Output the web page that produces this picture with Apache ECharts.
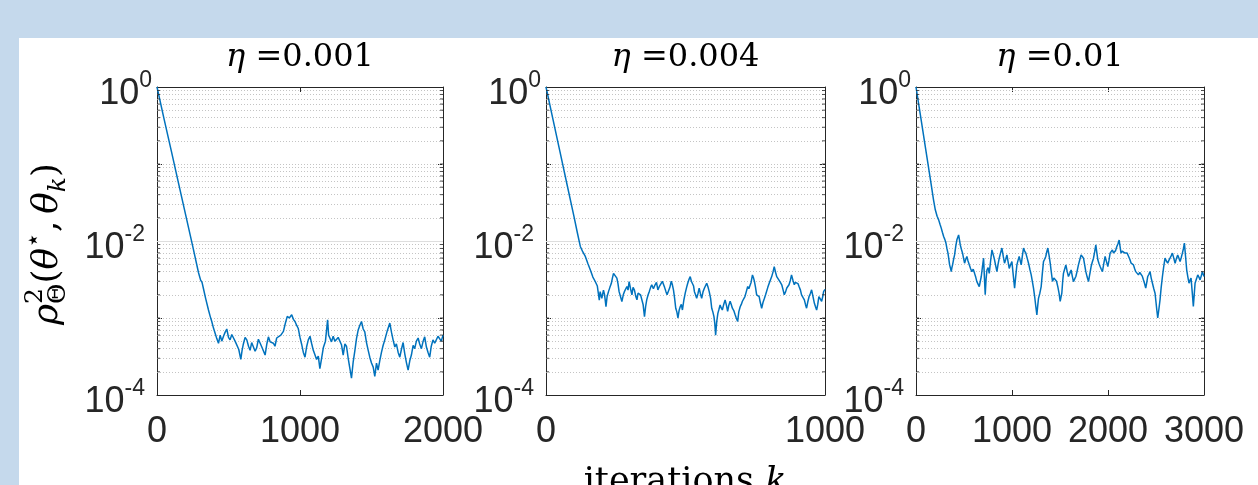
<!DOCTYPE html>
<html lang="en">
<head>
<meta charset="UTF-8">
<title>rho vs iterations</title>
<script src="https://cdn.jsdelivr.net/npm/echarts@6/dist/echarts.min.js"></script>
<style>
  html, body { margin: 0; padding: 0; background: #c5d9ec; }
  #main { width: 1258px; height: 485px; }
</style>
</head>
<body>
<div id="main"></div>
<script>
// step sizes shown in the panel titles
var etaLabels = ['0.001', '0.004', '0.01'];
// right end of each x axis (iterations)
var xMaxes = [2000, 1000, 3000];
var xTickStep = 1000;

// [iteration k, rho^2], eta = 0.001
var curve1 = [[0,1.0],[50,0.38],[100,0.148],[150,0.057],[200,0.022],[250,8.5e-3],[290,3.9e-3],[305,3.1e-3],[315,2.9e-3],[325,2.4e-3],[340,1.8e-3],[360,1.27e-3],[372,1.05e-3],[383,9.0e-4],[395,7.4e-4],[407,6.3e-4],[418,5.4e-4],[430,4.7e-4],[442,6.0e-4],[453,5.0e-4],[465,5.8e-4],[476,6.5e-4],[488,7.2e-4],[500,5.6e-4],[511,5.2e-4],[523,6.1e-4],[535,5.5e-4],[546,5.0e-4],[558,4.8e-4],[572,3.9e-4],[586,2.9e-4],[595,3.8e-4],[604,4.6e-4],[616,5.6e-4],[628,5.2e-4],[640,4.3e-4],[651,3.8e-4],[662,4.8e-4],[674,5.0e-4],[686,3.7e-4],[697,4.1e-4],[709,5.3e-4],[721,5.2e-4],[733,4.2e-4],[744,4.0e-4],[756,3.3e-4],[768,4.6e-4],[779,5.7e-4],[791,4.9e-4],[802,5.2e-4],[814,4.7e-4],[825,4.3e-4],[837,5.5e-4],[849,5.2e-4],[866,6.0e-4],[884,6.7e-4],[898,8.6e-4],[911,1.05e-3],[925,1.0e-3],[942,1.1e-3],[954,9.6e-4],[965,9.0e-4],[977,8.0e-4],[988,7.3e-4],[1000,5.6e-4],[1011,4.6e-4],[1023,3.6e-4],[1035,3.1e-4],[1046,4.2e-4],[1058,5.2e-4],[1070,5.8e-4],[1081,4.7e-4],[1093,3.8e-4],[1105,3.3e-4],[1116,2.9e-4],[1128,3.2e-4],[1139,2.2e-4],[1151,3.0e-4],[1163,4.1e-4],[1178,5.0e-4],[1193,9.5e-4],[1200,6.0e-4],[1209,5.5e-4],[1220,4.9e-4],[1232,5.8e-4],[1244,5.0e-4],[1256,4.8e-4],[1267,5.6e-4],[1279,5.8e-4],[1290,4.5e-4],[1302,3.3e-4],[1314,4.6e-4],[1325,4.3e-4],[1337,3.0e-4],[1349,2.2e-4],[1360,1.65e-4],[1372,2.7e-4],[1384,3.8e-4],[1395,5.4e-4],[1407,7.0e-4],[1418,8.0e-4],[1430,9.0e-4],[1442,7.2e-4],[1453,6.6e-4],[1465,4.8e-4],[1477,3.8e-4],[1488,3.1e-4],[1500,2.6e-4],[1512,2.3e-4],[1523,1.75e-4],[1535,2.6e-4],[1546,2.1e-4],[1558,2.8e-4],[1570,3.6e-4],[1581,4.4e-4],[1593,5.2e-4],[1610,6.8e-4],[1628,8.6e-4],[1640,6.5e-4],[1651,5.2e-4],[1663,4.2e-4],[1674,4.6e-4],[1686,3.6e-4],[1698,3.1e-4],[1709,3.9e-4],[1721,4.8e-4],[1733,3.4e-4],[1745,2.6e-4],[1756,2.1e-4],[1768,2.8e-4],[1779,3.3e-4],[1791,4.4e-4],[1802,4.0e-4],[1814,5.0e-4],[1826,5.5e-4],[1837,4.6e-4],[1849,4.0e-4],[1860,4.9e-4],[1872,5.7e-4],[1884,4.2e-4],[1895,3.6e-4],[1907,3.1e-4],[1918,4.3e-4],[1930,5.2e-4],[1942,4.7e-4],[1953,4.6e-4],[1965,5.8e-4],[1977,5.5e-4],[1988,5.0e-4],[2000,6.0e-4]];

// eta = 0.004
var curve2 = [[0,1.0],[25,0.38],[50,0.145],[75,0.055],[100,0.021],[112,0.013],[123,8.5e-3],[132,7.2e-3],[141,6.3e-3],[150,5.1e-3],[159,4.2e-3],[168,3.4e-3],[176,3.0e-3],[184,2.6e-3],[191,1.7e-3],[194,2.2e-3],[200,1.8e-3],[206,2.3e-3],[210,2.0e-3],[215,1.4e-3],[219,1.9e-3],[224,2.2e-3],[229,2.5e-3],[234,2.8e-3],[238,3.3e-3],[242,3.8e-3],[248,3.85e-3],[254,3.3e-3],[258,2.8e-3],[262,2.2e-3],[267,1.9e-3],[272,1.63e-3],[277,2.0e-3],[281,2.2e-3],[286,2.4e-3],[290,2.56e-3],[294,2.3e-3],[298,2.97e-3],[303,2.4e-3],[308,2.0e-3],[312,2.5e-3],[317,2.3e-3],[322,1.9e-3],[326,1.72e-3],[330,2.1e-3],[334,2.2e-3],[339,2.0e-3],[344,1.9e-3],[348,1.5e-3],[353,1.04e-3],[357,1.4e-3],[361,1.72e-3],[366,2.0e-3],[370,2.2e-3],[375,2.5e-3],[379,2.7e-3],[385,2.4e-3],[391,2.7e-3],[396,2.9e-3],[401,2.32e-3],[407,2.6e-3],[413,2.7e-3],[417,3.0e-3],[421,2.83e-3],[425,2.5e-3],[430,2.2e-3],[434,2.0e-3],[439,1.9e-3],[444,2.5e-3],[449,3.0e-3],[453,2.7e-3],[457,2.3e-3],[461,1.8e-3],[465,1.34e-3],[469,1.2e-3],[473,1.0e-3],[477,1.25e-3],[481,1.4e-3],[485,1.5e-3],[489,1.27e-3],[494,1.7e-3],[499,2.1e-3],[504,2.5e-3],[508,2.83e-3],[513,3.2e-3],[517,3.45e-3],[521,3.0e-3],[525,3.1e-3],[529,2.6e-3],[532,2.2e-3],[536,2.0e-3],[540,1.8e-3],[545,2.1e-3],[549,2.45e-3],[553,2.1e-3],[558,1.8e-3],[563,2.2e-3],[568,2.45e-3],[572,2.6e-3],[576,2.83e-3],[581,2.5e-3],[585,2.2e-3],[590,1.8e-3],[594,1.34e-3],[598,1.2e-3],[602,1.04e-3],[605,8.5e-4],[608,6.0e-4],[612,9.0e-4],[616,1.15e-3],[620,1.3e-3],[624,1.48e-3],[628,1.35e-3],[632,1.27e-3],[637,1.5e-3],[642,1.72e-3],[647,1.45e-3],[651,1.22e-3],[655,1.45e-3],[660,1.65e-3],[664,1.5e-3],[668,1.34e-3],[673,1.25e-3],[678,1.1e-3],[682,1.0e-3],[687,9.0e-4],[691,1.2e-3],[696,1.4e-3],[700,1.5e-3],[704,1.65e-3],[709,1.75e-3],[713,1.9e-3],[718,2.2e-3],[723,2.56e-3],[727,2.4e-3],[731,2.32e-3],[735,2.9e-3],[740,3.63e-3],[744,3.3e-3],[747,3.0e-3],[751,2.5e-3],[755,2.0e-3],[759,2.1e-3],[764,1.9e-3],[768,1.6e-3],[773,1.34e-3],[778,1.6e-3],[783,1.8e-3],[787,2.0e-3],[791,2.1e-3],[795,2.5e-3],[800,2.83e-3],[804,3.1e-3],[809,3.45e-3],[814,4.0e-3],[818,4.65e-3],[823,3.9e-3],[827,3.45e-3],[831,3.3e-3],[835,3.1e-3],[840,2.9e-3],[845,2.7e-3],[850,2.3e-3],[854,2.0e-3],[859,2.2e-3],[863,2.45e-3],[867,2.6e-3],[871,2.7e-3],[876,3.1e-3],[880,3.63e-3],[885,3.1e-3],[890,2.7e-3],[894,2.9e-3],[898,3.0e-3],[903,2.8e-3],[907,2.56e-3],[912,2.3e-3],[916,2.0e-3],[921,1.85e-3],[926,1.72e-3],[930,1.5e-3],[934,1.34e-3],[938,1.6e-3],[943,1.9e-3],[948,2.1e-3],[952,2.32e-3],[957,1.9e-3],[962,1.55e-3],[966,1.4e-3],[970,1.27e-3],[974,1.5e-3],[978,1.9e-3],[983,1.8e-3],[988,1.65e-3],[992,1.9e-3],[995,2.2e-3],[1000,2.35e-3]];

// eta = 0.01
var curve3 = [[0,1.0],[50,0.4],[100,0.158],[150,0.063],[183,0.034],[201,0.0254],[220,0.021],[236,0.0188],[250,0.0165],[263,0.0147],[275,0.013],[288,0.01145],[300,0.0105],[312,9.4e-3],[322,8.0e-3],[333,6.95e-3],[342,5.8e-3],[350,4.9e-3],[360,4.4e-3],[367,4.0e-3],[374,4.5e-3],[381,4.9e-3],[392,5.8e-3],[402,6.6e-3],[414,8.5e-3],[426,0.01035],[435,0.0108],[444,0.012],[452,0.0105],[461,8.9e-3],[473,7.8e-3],[485,6.95e-3],[495,6.0e-3],[506,5.15e-3],[518,5.8e-3],[530,6.3e-3],[542,5.5e-3],[555,4.9e-3],[568,4.4e-3],[582,4.0e-3],[596,4.3e-3],[610,3.8e-3],[622,3.4e-3],[634,2.97e-3],[646,2.8e-3],[659,2.56e-3],[670,3.0e-3],[680,3.46e-3],[692,4.6e-3],[704,5.98e-3],[712,3.5e-3],[721,2.0e-3],[730,3.2e-3],[739,4.2e-3],[751,4.5e-3],[763,3.8e-3],[777,5.5e-3],[791,7.67e-3],[805,6.6e-3],[818,5.7e-3],[830,4.8e-3],[843,4.0e-3],[855,5.0e-3],[867,5.98e-3],[881,7.0e-3],[895,8.1e-3],[909,6.3e-3],[922,5.15e-3],[935,5.8e-3],[947,6.6e-3],[959,5.4e-3],[971,4.4e-3],[985,4.9e-3],[999,5.4e-3],[1013,3.6e-3],[1027,2.44e-3],[1039,3.5e-3],[1051,4.9e-3],[1063,5.6e-3],[1075,6.3e-3],[1086,5.5e-3],[1096,4.9e-3],[1108,6.4e-3],[1120,8.1e-3],[1132,7.4e-3],[1144,6.95e-3],[1158,6.0e-3],[1172,5.15e-3],[1186,4.3e-3],[1200,3.63e-3],[1212,3.0e-3],[1224,2.44e-3],[1236,1.9e-3],[1248,1.41e-3],[1259,1.1e-3],[1268,1.45e-3],[1276,1.8e-3],[1290,2.1e-3],[1304,2.56e-3],[1316,3.8e-3],[1328,5.4e-3],[1340,5.8e-3],[1352,6.3e-3],[1362,7.2e-3],[1373,8.1e-3],[1386,6.5e-3],[1398,5.15e-3],[1410,3.9e-3],[1422,2.98e-3],[1436,3.3e-3],[1450,3.46e-3],[1464,3.0e-3],[1477,2.56e-3],[1490,2.1e-3],[1502,1.64e-3],[1510,1.85e-3],[1519,2.1e-3],[1528,3.0e-3],[1536,3.8e-3],[1548,4.3e-3],[1561,4.9e-3],[1575,4.0e-3],[1588,3.46e-3],[1602,3.8e-3],[1616,4.2e-3],[1628,3.5e-3],[1640,2.97e-3],[1652,3.2e-3],[1665,3.46e-3],[1679,4.1e-3],[1692,4.9e-3],[1706,5.7e-3],[1720,6.6e-3],[1732,6.3e-3],[1745,5.98e-3],[1757,4.9e-3],[1769,4.0e-3],[1783,3.4e-3],[1797,2.97e-3],[1810,3.7e-3],[1824,4.66e-3],[1836,5.3e-3],[1849,5.98e-3],[1861,7.2e-3],[1873,8.9e-3],[1884,7.0e-3],[1894,5.7e-3],[1906,5.1e-3],[1918,4.66e-3],[1930,4.3e-3],[1942,4.0e-3],[1956,5.1e-3],[1970,6.3e-3],[1984,5.4e-3],[1998,4.66e-3],[2010,5.6e-3],[2022,6.95e-3],[2034,7.2e-3],[2046,7.67e-3],[2057,7.0e-3],[2067,6.6e-3],[2079,7.5e-3],[2091,8.4e-3],[2104,9.2e-3],[2116,0.0103],[2126,8.4e-3],[2136,6.95e-3],[2148,7.4e-3],[2161,7.67e-3],[2173,7.0e-3],[2185,7.3e-3],[2199,7.0e-3],[2213,6.6e-3],[2227,5.8e-3],[2241,5.15e-3],[2253,5.4e-3],[2265,4.9e-3],[2277,4.4e-3],[2289,4.0e-3],[2303,3.8e-3],[2317,3.63e-3],[2331,3.9e-3],[2345,4.0e-3],[2357,3.5e-3],[2369,3.13e-3],[2381,2.8e-3],[2393,2.44e-3],[2404,2.9e-3],[2414,3.46e-3],[2426,3.7e-3],[2438,4.0e-3],[2450,3.3e-3],[2463,2.83e-3],[2477,2.4e-3],[2490,2.1e-3],[2500,1.6e-3],[2509,1.25e-3],[2518,1.0e-3],[2530,1.3e-3],[2542,1.72e-3],[2554,2.5e-3],[2567,3.46e-3],[2580,4.6e-3],[2594,5.98e-3],[2608,5.5e-3],[2622,5.15e-3],[2634,5.6e-3],[2646,5.98e-3],[2658,6.4e-3],[2671,6.95e-3],[2685,6.0e-3],[2699,5.15e-3],[2712,5.9e-3],[2726,6.6e-3],[2738,6.0e-3],[2751,5.4e-3],[2763,6.1e-3],[2775,6.95e-3],[2786,8.0e-3],[2796,9.4e-3],[2808,6.3e-3],[2820,4.2e-3],[2832,3.4e-3],[2844,2.83e-3],[2855,3.1e-3],[2865,3.3e-3],[2877,2.2e-3],[2889,1.41e-3],[2898,2.0e-3],[2907,2.83e-3],[2921,3.2e-3],[2935,3.63e-3],[2947,3.4e-3],[2959,3.13e-3],[2971,3.5e-3],[2983,4.0e-3],[2992,3.7e-3],[3000,3.46e-3]];

var curves = [curve1, curve2, curve3];

// log y axis: 1e-4 .. 1e0, labels on every second decade
var yMin = 1e-4, yMax = 1;
var majorGrid = [1e-2];

var chart = echarts.init(document.getElementById('main'));

var sans = '"Liberation Sans", Arial, Helvetica, sans-serif';
var serif = '"DejaVu Serif", "Liberation Serif", serif';
var ink = '#262626';
var lineBlue = '#0072bd';

// plot boxes (pixels)
var boxes = [
    { left: 157, width: 286 },
    { left: 546, width: 279 },
    { left: 916, width: 288 }
];
var boxTop = 87, boxHeight = 308;

// dotted minor grid at 2..9 x 10^k and the odd decades
var minorGrid = [];
for (var e = -4; e < 0; e++) {
    for (var m = 1; m <= 9; m++) {
        if (m === 1 && e % 2 === 0) continue;
        minorGrid.push(m * Math.pow(10, e));
    }
}

function decadeLabel(v) {
    var e = Math.round(Math.log10(v));
    if (e % 2 !== 0) return '';
    return e === 0 ? '{b|10}{s|0}' : '{b|10}{n|' + e + '}';
}

var labelRich = {
    b: { fontSize: 36, fontFamily: sans, color: ink, padding: [14, 0, 0, 0] },
    s: { fontSize: 23, fontFamily: sans, color: ink, padding: [0, 0, 12, 0] },
    n: { fontSize: 23, fontFamily: sans, color: ink, padding: [0, 7, 12, 0] }
};

var grids = [], xAxes = [], yAxes = [], series = [];

boxes.forEach(function (b, i) {
    grids.push({ left: b.left, top: boxTop, width: b.width, height: boxHeight });

    var xBase = {
        type: 'value', gridIndex: i, min: 0, max: xMaxes[i], interval: xTickStep,
        axisLine: { show: true, onZero: false, lineStyle: { color: ink, width: 1 } },
        axisTick: { show: true, inside: true, length: 5, lineStyle: { color: ink } },
        splitLine: { show: false }
    };
    xAxes.push(Object.assign({}, xBase, {
        position: 'bottom',
        axisLabel: {
            show: true, margin: 19, fontSize: 36, fontFamily: sans, color: ink,
            formatter: function (v) { return String(v); }
        }
    }));
    xAxes.push(Object.assign({}, xBase, { position: 'top', axisLabel: { show: false } }));

    var yBase = {
        type: 'log', logBase: 10, gridIndex: i, min: yMin, max: yMax, splitNumber: 4,
        axisLine: { show: true, onZero: false, lineStyle: { color: ink, width: 1 } },
        axisTick: { show: true, inside: true, length: 5, lineStyle: { color: ink } },
        splitLine: { show: false }
    };
    yAxes.push(Object.assign({}, yBase, {
        position: 'left',
        axisLabel: { show: true, margin: 5, formatter: decadeLabel, rich: labelRich }
    }));
    yAxes.push(Object.assign({}, yBase, { position: 'right', axisLabel: { show: false } }));

    var gridLines = minorGrid.map(function (v) {
        return { yAxis: v, lineStyle: { color: '#c4c4c4', type: [1, 2], width: 1 } };
    }).concat(majorGrid.map(function (v) {
        return { yAxis: v, lineStyle: { color: '#dedede', type: 'solid', width: 1 } };
    }));

    series.push({
        type: 'line',
        xAxisIndex: i * 2,
        yAxisIndex: i * 2,
        data: curves[i],
        showSymbol: false,
        z: 3,
        lineStyle: { color: lineBlue, width: 1.5 },
        itemStyle: { color: lineBlue },
        markLine: {
            silent: true, z: 1, symbol: 'none', animation: false, precision: 10,
            label: { show: false },
            data: gridLines
        }
    });

    // short inside minor ticks on both y edges (MATLAB box style)
    var minorTickMarks = [];
    minorGrid.forEach(function (v) {
        minorTickMarks.push({ value: [0, v], symbolOffset: [1.5, 0] });
        minorTickMarks.push({ value: [xMaxes[i], v], symbolOffset: [-1.5, 0] });
    });
    series.push({
        type: 'scatter',
        xAxisIndex: i * 2,
        yAxisIndex: i * 2,
        data: minorTickMarks,
        symbol: 'rect',
        symbolSize: [3, 1],
        silent: true,
        z: 4,
        itemStyle: { color: ink }
    });
});

// rotated y-axis name: rho^2_Theta(theta*, theta_k), sized to the reference length
var measureCtx = document.createElement('canvas').getContext('2d');
function textWidth(s, size, italic) {
    measureCtx.font = (italic ? 'italic ' : '') + size + 'px ' + serif;
    return measureCtx.measureText(s).width;
}
var yNameParts = [
    { t: 'ρ', k: 1, italic: true, dy: 0 },
    { t: '2', k: 0.7, dy: -0.36, stack: true },
    { t: 'Θ', k: 0.7, dy: 0.3 },
    { t: '(', k: 1, dy: 0 },
    { t: 'θ', k: 1, italic: true, dy: 0 },
    { t: '⋆', k: 0.7, dy: -0.38 },
    { t: ',', k: 1, dy: 0 },
    { t: ' ', k: 0.6, dy: 0 },
    { t: 'θ', k: 1, italic: true, dy: 0 },
    { t: 'k', k: 0.7, italic: true, dy: 0.3 },
    { t: ')', k: 1, dy: 0 }
];
function layoutName(size) {
    var kids = [], cursor = 0, stackW = 0;
    yNameParts.forEach(function (p) {
        var fs = size * p.k;
        var w = textWidth(p.t, fs, p.italic);
        kids.push({
            type: 'text', x: cursor, y: p.dy * size,
            style: {
                text: p.t, fill: '#000', fontSize: fs, fontFamily: serif,
                fontStyle: p.italic ? 'italic' : 'normal',
                align: 'left', verticalAlign: 'middle'
            }
        });
        if (p.stack) { stackW = w; } else { cursor += Math.max(w, stackW); stackW = 0; }
    });
    return { kids: kids, len: cursor };
}
var trial = layoutName(40);
var yName = layoutName(40 * 162 / trial.len);

var titleTexts = etaLabels.map(function (lab, i) {
    return {
        type: 'text',
        x: boxes[i].left + boxes[i].width / 2,
        y: 58,
        style: {
            text: '{i|η} =' + lab,
            fill: '#000', fontSize: 32, fontFamily: serif,
            align: 'center', verticalAlign: 'middle',
            rich: { i: { fontStyle: 'italic', fontSize: 32, fontFamily: serif, fill: '#000' } }
        }
    };
});

var option = {
    animation: false,
    backgroundColor: '#c5d9ec',
    graphic: [
        { type: 'rect', z: -10, shape: { x: 19, y: 38, width: 1239, height: 447 }, style: { fill: '#ffffff' } },
        {
            type: 'group', x: 48, y: 244 + yName.len / 2, rotation: Math.PI / 2,
            children: yName.kids
        },
        {
            type: 'text', x: 685, y: 483,
            style: {
                text: 'iterations {k|k}', fill: '#000', fontSize: 35, fontFamily: serif,
                align: 'center', verticalAlign: 'middle',
                rich: { k: { fontStyle: 'italic', fontSize: 35, fontFamily: serif, fill: '#000' } }
            }
        }
    ].concat(titleTexts),
    grid: grids,
    xAxis: xAxes,
    yAxis: yAxes,
    series: series
};

chart.setOption(option);
</script>
</body>
</html>
